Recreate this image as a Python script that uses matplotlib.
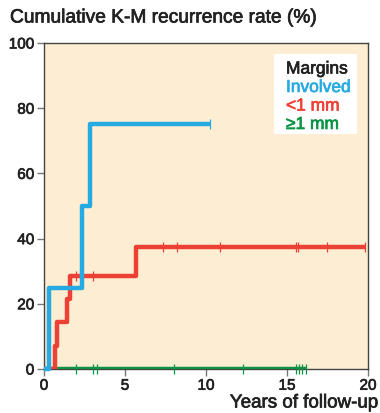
import matplotlib
matplotlib.use("Agg")
import matplotlib.pyplot as plt
import matplotlib.patheffects as pe
from matplotlib.patches import Rectangle

plt.rcParams['font.family'] = ['Liberation Sans', 'DejaVu Sans']

# Data
inv_t = [0, 0.3, 2.35, 2.85, 10.25]
inv_y = [0, 25, 50, 75, 75]
inv_cens_t = [10.25]
inv_cens_y = [75]

lt1_t = [0, 0.68, 0.8, 1.4, 1.6, 5.7, 19.8]
lt1_y = [0, 7.1, 14.3, 21.4, 28.6, 37.5, 37.5]
lt1_cens_t = [2.0, 3.0, 7.35, 8.2, 10.85, 15.55, 15.7, 17.45, 19.8]
lt1_cens_y = [28.6, 28.6, 37.5, 37.5, 37.5, 37.5, 37.5, 37.5, 37.5]

ge1_t = [0, 16.2]
ge1_y = [0, 0]
ge1_cens_t = [2.0, 3.0, 3.25, 8.0, 12.3, 15.55, 15.75, 15.95, 16.2]
ge1_cens_y = [0] * 9

xticks = [0, 5, 10, 15, 20]
yticks = [0, 20, 40, 60, 80, 100]

c_blue = '#27AAE1'
c_red = '#EE4136'
c_green = '#0B9444'

def thick(c):
    return [pe.withStroke(linewidth=0.5, foreground=c)]

fig = plt.figure(figsize=(3.8, 4.14), dpi=100)
ax = fig.add_axes([44/380, 44/414, 324/380, 326/414])
ax.set_facecolor('#FDEDD3')
ax.set_xlim(0, 20)
ax.set_ylim(0, 100)

lw = 3.2
ms = 7
mew = 0.9
ax.step(ge1_t, ge1_y, where='post', color=c_green, lw=lw, solid_capstyle='butt', zorder=3)
ax.plot(ge1_cens_t, ge1_cens_y, ls='none', marker='|', ms=ms, mew=mew, color=c_green, zorder=3, clip_on=False)
ax.step(lt1_t, lt1_y, where='post', color=c_red, lw=lw, solid_capstyle='butt', zorder=4)
ax.plot(lt1_cens_t, lt1_cens_y, ls='none', marker='|', ms=ms, mew=mew, color=c_red, zorder=4)
ax.step(inv_t, inv_y, where='post', color=c_blue, lw=lw, solid_capstyle='butt', zorder=5, clip_on=False)
ax.plot(inv_cens_t, inv_cens_y, ls='none', marker='|', ms=ms, mew=mew, color=c_blue, zorder=5)

ax.set_xticks(xticks)
ax.set_yticks(yticks)
ax.tick_params(direction='out', length=5, width=1, color='#777777', labelsize=11, labelcolor='#222222', pad=2)
for lab in ax.get_xticklabels() + ax.get_yticklabels():
    lab.set_path_effects(thick('#222222'))
for s in ax.spines.values():
    s.set_color('#444444')
    s.set_linewidth(1)

fig.text(10/380, 1 - 19/414, 'Cumulative K-M recurrence rate (%)', fontsize=13.8, color='#222222',
         va='center', ha='left', path_effects=thick('#222222'))
fig.text(378/380, 1 - 404/414, 'Years of follow-up', fontsize=13.5, color='#222222',
         va='center', ha='right', path_effects=thick('#222222'))

# legend box
ax.add_patch(Rectangle((274/380, 1 - 135/414), 83/380, 80/414, transform=fig.transFigure,
                       facecolor='white', edgecolor='none', zorder=6))
labels = [('Margins', '#222222'), ('Involved', c_blue), ('<1 mm', c_red), ('\u22651 mm', c_green)]
for i, (t, c) in enumerate(labels):
    fig.text(286/380, 1 - (70 + i * 18.5)/414, t, fontsize=12.5, color=c, va='center', ha='left',
             zorder=7, path_effects=thick(c))

fig.savefig('out.png', dpi=100, facecolor='white')
